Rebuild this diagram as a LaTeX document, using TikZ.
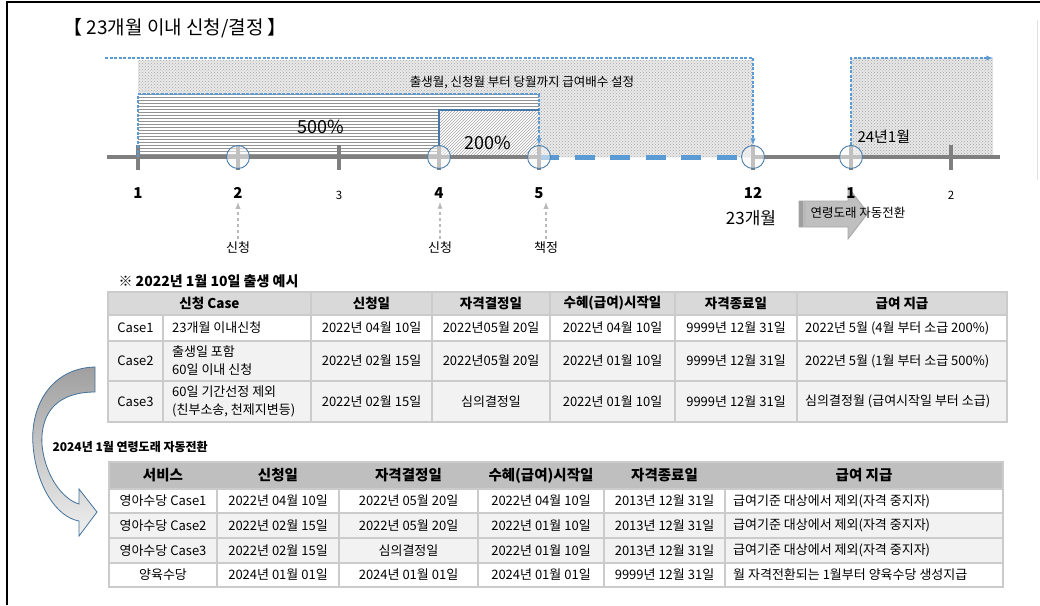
\documentclass[tikz,border=0pt]{standalone}
\usepackage{fontspec}
\setmainfont{Noto Sans CJK KR}
\usetikzlibrary{arrows,shapes}
\usetikzlibrary{patterns}

\definecolor{lblue}{HTML}{5B9BD5}
\definecolor{cblue}{HTML}{41719C}
\definecolor{axisgray}{HTML}{7F7F7F}
\definecolor{hdrgray}{HTML}{D9D9D9}
\definecolor{hdrgrayb}{HTML}{BFBFBF}
\definecolor{rowgray}{HTML}{F2F2F2}
\definecolor{gridgray}{HTML}{CBCBCB}

\tikzset{
  blueline/.style={lblue,line width=1.3pt,dash pattern=on 3pt off 1.5pt},
  solidblue/.style={cblue!80!lblue,line width=1.6pt},
  axisline/.style={axisgray,line width=4pt},
  tickmark/.style={axisgray,line width=3.5pt},
  month/.style={circle,draw=cblue!70!lblue,line width=0.9pt,fill=gray!6,fill opacity=0.55,minimum size=23pt,inner sep=0pt},
  mlab/.style={font=\fontsize{15}{15}\selectfont\bfseries},
  mlabs/.style={font=\fontsize{11.5}{11.5}\selectfont},
  callout/.style={gray!55,dashed,line width=1.3pt,->},
  cell/.style={font=\fontsize{13}{18}\selectfont,inner sep=0pt},
  hcell/.style={font=\fontsize{13.5}{14}\selectfont\bfseries,inner sep=0pt},
  bhcell/.style={font=\fontsize{14.5}{15}\selectfont\bfseries,inner sep=0pt},
  grid/.style={gridgray,line width=1.4pt}
}

\begin{document}
\begin{tikzpicture}[x=1pt,y=-1pt,>=latex]

\useasboundingbox (0,0) rectangle (1040,605);

\draw[black,line width=1.2pt] (7,605) -- (7,2) -- (1040,2);
\draw[gray!25] (1037,20) -- (1037,180);

\node[anchor=west,font=\fontsize{19}{19}\selectfont] (title) at (60,28) {【 23개월 이내 신청/결정 】};

\coordinate (c1) at (138,157);
\coordinate (c2) at (238,157);
\coordinate (c3) at (339,157);
\coordinate (c4) at (439,157);
\coordinate (c5) at (539,157);
\coordinate (c12) at (753,157);
\coordinate (n1c) at (851,157);
\coordinate (n2c) at (951,157);

\fill[gray!17] (138,60) rectangle (753,157);
\fill[pattern=crosshatch dots,pattern color=gray!70] (138,60) rectangle (753,157);
\fill[gray!19] (851,58) rectangle (993,157);
\fill[pattern=crosshatch dots,pattern color=gray!72] (851,58) rectangle (993,157);

\fill[white] (138,94) rectangle (539,157);
\fill[pattern=horizontal lines,pattern color=gray!85] (138,94) rectangle (539,157);
\fill[white] (439,110) rectangle (539,157);
\fill[pattern=north east lines,pattern color=gray!70] (439,110) rectangle (539,157);

\node[font=\fontsize{12.5}{12.5}\selectfont] (band) at (522,82) {출생월, 신청월 부터 당월까지 급여배수 설정};
\node[font=\fontsize{18}{18}\selectfont] (p500) at (321,127) {500\%};
\node[font=\fontsize{18}{18}\selectfont] (p200) at (488,143) {200\%};

\draw[axisline] (107,157) -- (c5);
\draw[axisline] (c12) -- (1000,157);
\draw[lblue,line width=5pt,dash pattern=on 20pt off 15.5pt] (c5) -- (c12);

\draw[tickmark] (138,145) -- (138,170);
\draw[tickmark] (238,145) -- (238,170);
\draw[tickmark] (339,145) -- (339,170);
\draw[tickmark] (439,145) -- (439,170);
\draw[tickmark] (539,145) -- (539,170);
\draw[tickmark] (753,145) -- (753,170);
\draw[tickmark] (851,145) -- (851,170);
\draw[tickmark] (951,145) -- (951,170);

\node[month] (m2) at (c2) { };
\node[month] (m4) at (c4) { };
\node[month] (m5) at (c5) { };
\node[month] (m12) at (c12) { };
\node[month] (n1) at (n1c) { };

\draw[blueline] (138,157) -- (138,94) -- (539,94);
\draw[blueline,->] (539,94) -- (m5);
\draw[solidblue] (m4) -- (439,110) -- (539,110);
\draw[blueline,->] (105,58) -- (753,58) -- (m12);
\draw[blueline,->] (n1) -- (851,58) -- (993,58);

\node[anchor=west,font=\fontsize{15}{15}\selectfont] (jan24) at (854,137) {24년1월};

\fill[hdrgrayb,draw=gray!70,line width=0.8pt] (799,201) -- (848,201) -- (848,187) -- (868,213) -- (848,239) -- (848,227) -- (799,227) -- cycle;
\fill[gray!75] (799,201) rectangle (803,227);
\fill[gray!55] (803,201) rectangle (806,227);
\node[anchor=west,font=\fontsize{12.5}{12.5}\selectfont] (auto) at (807,213) {연령도래 자동전환};

\node[mlab] (d1) at (138,193) {1};
\node[mlab] (d2) at (238,193) {2};
\node[mlabs] (d3) at (339,195) {3};
\node[mlab] (d4) at (439,193) {4};
\node[mlab] (d5) at (539,193) {5};
\node[mlab] (d12) at (753,193) {12};
\node[mlab] (e1) at (851,193) {1};
\node[mlabs] (e2) at (951,195) {2};
\node[font=\fontsize{17}{17}\selectfont] (m23) at (751,218) {23개월};

\node[font=\fontsize{13}{13}\selectfont] (s2) at (238,248) {신청};
\node[font=\fontsize{13}{13}\selectfont] (s4) at (440,248) {신청};
\node[font=\fontsize{13}{13}\selectfont] (s5) at (546,248) {책정};
\draw[callout] (s2.north) -- (s2.north |- d2.south);
\draw[callout] (s4.north) -- (s4.north |- d4.south);
\draw[callout] (s5.north) -- (s5.north |- d5.south);

\node[anchor=west,font=\fontsize{14}{14}\selectfont\bfseries] (ex) at (115,281) {※ 2022년 1월 10일 출생 예시};

\fill[hdrgray] (108,292) rectangle (1007,315);
\fill[white] (108,315) rectangle (1007,341);
\fill[rowgray] (108,341) rectangle (1007,422);
\draw[grid] (108,292) rectangle (1007,422);
\draw[grid] (108,315) -- (1007,315);
\draw[grid] (108,341) -- (1007,341);
\draw[grid] (108,381) -- (1007,381);
\draw[grid] (163,315) -- (163,422);
\draw[grid] (311,292) -- (311,422);
\draw[grid] (432,292) -- (432,422);
\draw[grid] (550,292) -- (550,422);
\draw[grid] (675,292) -- (675,422);
\draw[grid] (797,292) -- (797,422);

\node[hcell] (ah1) at (209.5,303.5) {신청 Case};
\node[hcell] (ah2) at (371.5,303.5) {신청일};
\node[hcell] (ah3) at (491,303.5) {자격결정일};
\node[hcell] (ah4) at (612.5,303.5) {수혜(급여)시작일};
\node[hcell] (ah5) at (736,303.5) {자격종료일};
\node[hcell] (ah6) at (902,303.5) {급여 지급};

\node[cell] (a10) at (135.5,328) {Case1};
\node[cell,anchor=west] (a11) at (172,328) {23개월 이내신청};
\node[cell] (a12) at (371.5,328) {2022년 04월 10일};
\node[cell] (a13) at (491,328) {2022년05월 20일};
\node[cell] (a14) at (612.5,328) {2022년 04월 10일};
\node[cell] (a15) at (736,328) {9999년 12월 31일};
\node[cell,anchor=west] (a16) at (805,328) {2022년 5월 (4월 부터 소급 200\%)};

\node[cell] (a20) at (135.5,361) {Case2};
\node[cell,anchor=west,align=left] (a21) at (172,361) {출생일 포함\\60일 이내 신청};
\node[cell] (a22) at (371.5,361) {2022년 02월 15일};
\node[cell] (a23) at (491,361) {2022년05월 20일};
\node[cell] (a24) at (612.5,361) {2022년 01월 10일};
\node[cell] (a25) at (736,361) {9999년 12월 31일};
\node[cell,anchor=west] (a26) at (805,361) {2022년 5월 (1월 부터 소급 500\%)};

\node[cell] (a30) at (135.5,401.5) {Case3};
\node[cell,anchor=west,align=left] (a31) at (172,401.5) {60일 기간선정 제외\\(친부소송, 천제지변등)};
\node[cell] (a32) at (371.5,401.5) {2022년 02월 15일};
\node[cell] (a33) at (491,401.5) {심의결정일};
\node[cell] (a34) at (612.5,401.5) {2022년 01월 10일};
\node[cell] (a35) at (736,401.5) {9999년 12월 31일};
\node[cell,anchor=west] (a36) at (805,401.5) {심의결정월 (급여시작일 부터 소급)};

\draw[cblue,line width=0.8pt,top color=gray!75,bottom color=gray!12]
  (95,367) .. controls (52,368) and (30,405) .. (33,445)
  .. controls (36,485) and (56,517) .. (79,521)
  -- (79,536) -- (97,512) -- (79,489) -- (79,504)
  .. controls (62,499) and (45,475) .. (42,445)
  .. controls (40,410) and (60,392) .. (95,392) -- cycle;

\node[anchor=west,font=\fontsize{12}{12}\selectfont\bfseries] (conv) at (49,447) {2024년 1월 연령도래 자동전환};

\fill[hdrgrayb] (109,462) rectangle (1003,489);
\fill[white] (109,489) rectangle (1003,513);
\fill[rowgray] (109,513) rectangle (1003,563);
\fill[white] (109,563) rectangle (1003,587);
\draw[grid] (109,462) rectangle (1003,587);
\draw[grid] (109,489) -- (1003,489);
\draw[grid] (109,513) -- (1003,513);
\draw[grid] (109,538) -- (1003,538);
\draw[grid] (109,563) -- (1003,563);
\draw[grid] (217,489) -- (217,587);
\draw[grid] (339,489) -- (339,587);
\draw[grid] (478,489) -- (478,587);
\draw[grid] (604,489) -- (604,587);
\draw[grid] (725,489) -- (725,587);

\node[bhcell] (bh1) at (163,475.5) {서비스};
\node[bhcell] (bh2) at (278,475.5) {신청일};
\node[bhcell] (bh3) at (408.5,475.5) {자격결정일};
\node[bhcell] (bh4) at (541,475.5) {수혜(급여)시작일};
\node[bhcell] (bh5) at (664.5,475.5) {자격종료일};
\node[bhcell] (bh6) at (864,475.5) {급여 지급};

\node[cell] (b11) at (163,501) {영아수당 Case1};
\node[cell] (b12) at (278,501) {2022년 04월 10일};
\node[cell] (b13) at (408.5,501) {2022년 05월 20일};
\node[cell] (b14) at (541,501) {2022년 04월 10일};
\node[cell] (b15) at (664.5,501) {2013년 12월 31일};
\node[cell,anchor=west] (b16) at (733,501) {급여기준 대상에서 제외(자격 중지자)};

\node[cell] (b21) at (163,525.5) {영아수당 Case2};
\node[cell] (b22) at (278,525.5) {2022년 02월 15일};
\node[cell] (b23) at (408.5,525.5) {2022년 05월 20일};
\node[cell] (b24) at (541,525.5) {2022년 01월 10일};
\node[cell] (b25) at (664.5,525.5) {2013년 12월 31일};
\node[cell,anchor=west] (b26) at (733,525.5) {급여기준 대상에서 제외(자격 중지자)};

\node[cell] (b31) at (163,550.5) {영아수당 Case3};
\node[cell] (b32) at (278,550.5) {2022년 02월 15일};
\node[cell] (b33) at (408.5,550.5) {심의결정일};
\node[cell] (b34) at (541,550.5) {2022년 01월 10일};
\node[cell] (b35) at (664.5,550.5) {2013년 12월 31일};
\node[cell,anchor=west] (b36) at (733,550.5) {급여기준 대상에서 제외(자격 중지자)};

\node[cell] (b41) at (163,575) {양육수당};
\node[cell] (b42) at (278,575) {2024년 01월 01일};
\node[cell] (b43) at (408.5,575) {2024년 01월 01일};
\node[cell] (b44) at (541,575) {2024년 01월 01일};
\node[cell] (b45) at (664.5,575) {9999년 12월 31일};
\node[cell,anchor=west] (b46) at (733,575) {월 자격전환되는 1월부터 양육수당 생성지급};

\end{tikzpicture}
\end{document}
